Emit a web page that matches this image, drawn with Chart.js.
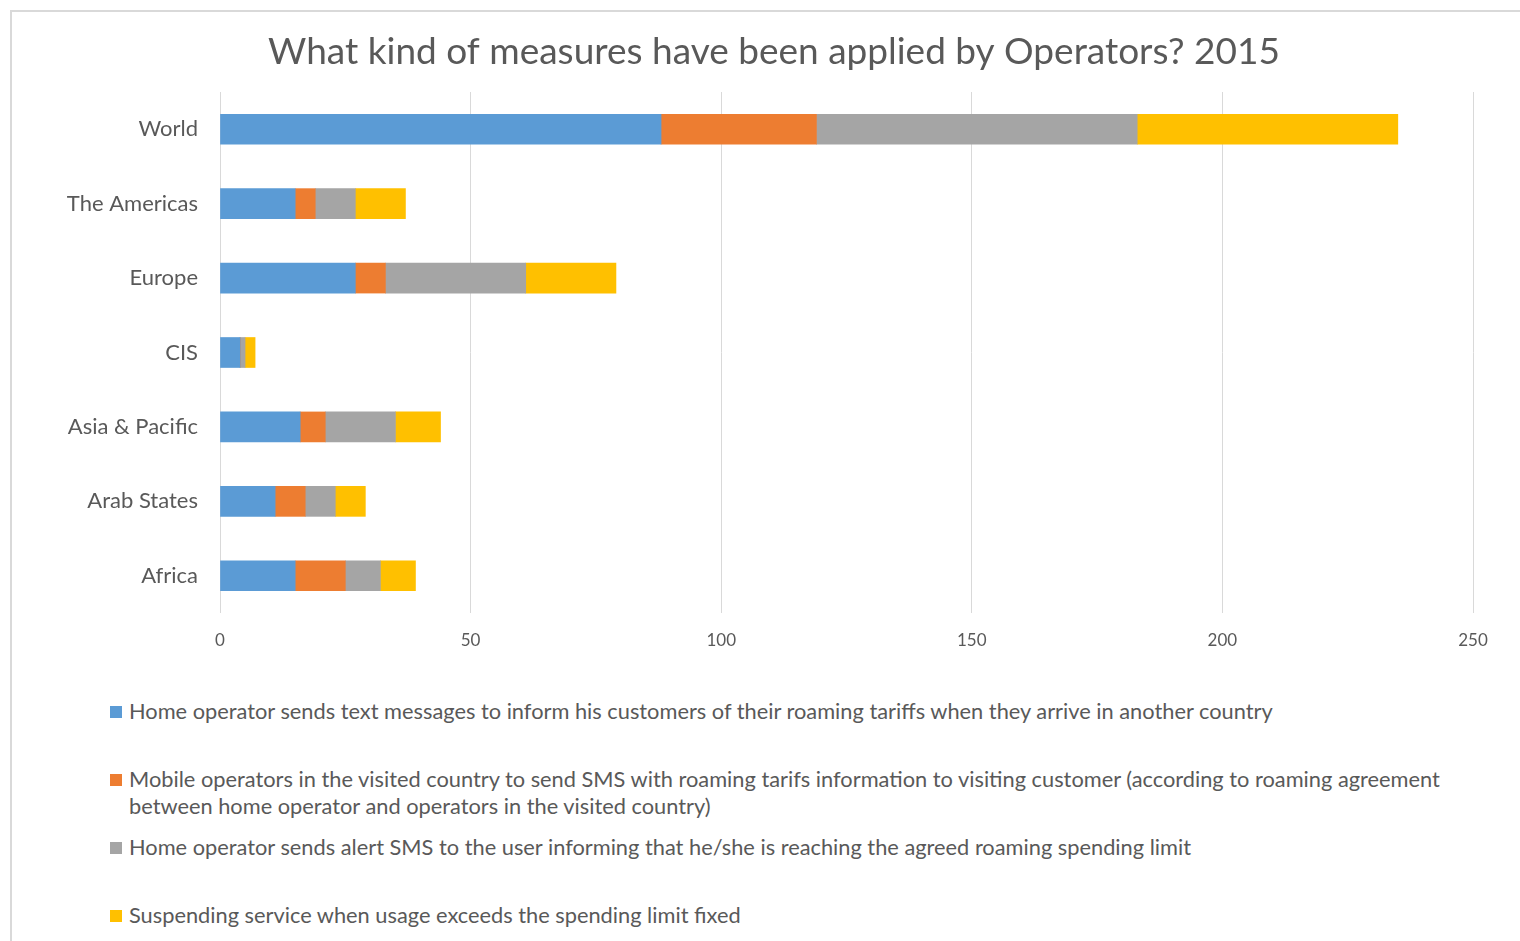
<!DOCTYPE html>
<html><head><meta charset="utf-8">
<script src="https://cdn.jsdelivr.net/npm/chart.js@4/dist/chart.umd.min.js"></script>
<style>
html,body{margin:0;padding:0;background:#fff;width:1520px;height:941px;overflow:hidden;font-family:Lato,"Open Sans",sans-serif;position:relative;}
#frame{position:absolute;left:10px;top:10px;width:1520px;height:940px;border-top:2px solid #d9d9d9;border-left:2px solid #d9d9d9;}
#wrap{position:absolute;left:0;top:0;width:1548px;height:670px;}
#legend{position:absolute;left:110px;top:697px;width:1345px;color:#595959;font-size:21.8px;line-height:27px;}
.li{position:absolute;left:0;width:1345px;}
.sw{position:absolute;left:0;top:9px;width:12px;height:12px;}
.tx{margin-left:19px;}
</style></head><body>
<div id="frame"></div>
<div id="wrap"><canvas id="c"></canvas></div>
<div id="legend"></div>
<script>
const categories = ["World","The Americas","Europe","CIS","Asia & Pacific","Arab States","Africa"];
const seriesNames = [
 "Home operator sends text messages to inform his customers of their roaming tariffs when they arrive in another country",
 "Mobile operators in the visited country to send SMS with roaming tarifs  information to visiting customer (according to roaming agreement between home operator and operators in the visited country)",
 "Home operator sends alert SMS to the user informing that he/she is reaching the agreed roaming spending limit",
 "Suspending service when usage exceeds the spending limit fixed"
];
const homeTextMessages = [88,15,27,4,16,11,15];
const visitedCountrySMS = [31,4,6,0,5,6,10];
const alertSMS = [64,8,28,1,14,6,7];
const suspendingService = [52,10,18,2,9,6,7];
const xTicks = [0,50,100,150,200,250];
const colors = ["#5B9BD5","#ED7D31","#A5A5A5","#FFC000"];
const seriesValues = [homeTextMessages, visitedCountrySMS, alertSMS, suspendingService];

const chart = new Chart(document.getElementById('c'), {
  type:'bar',
  data:{labels:categories, datasets: seriesNames.map((n,i)=>({label:n,data:seriesValues[i],backgroundColor:colors[i],barThickness:30,borderWidth:0}))},
  options:{
    indexAxis:'y', responsive:true, maintainAspectRatio:false, animation:false,
    layout:{padding:0},
    plugins:{
      legend:{display:false}, tooltip:{enabled:false},
      title:{display:true,text:"What kind of measures have been applied by Operators? 2015",color:"#595959",font:{family:"Lato",size:37,weight:'normal'},padding:{top:30,bottom:17.6}}
    },
    scales:{
      x:{stacked:true,min:0,max:250,afterBuildTicks:(s)=>{s.ticks=xTicks.map(v=>({value:v}));},
        grid:{color:"#d9d9d9",lineWidth:1,drawTicks:false},border:{display:false},
        ticks:{color:"#595959",font:{family:"Lato",size:17},padding:17},
        afterFit:(s)=>{s.height=57;}},
      y:{stacked:true,grid:{display:false},border:{display:false},
        ticks:{color:"#595959",font:{family:"Lato",size:22},padding:14},
        afterFit:(s)=>{s.width=220;}},
      yr:{type:'category',labels:categories,position:'right',display:true,grid:{display:false},border:{display:false},
        ticks:{display:false},afterFit:(s)=>{s.width=75;}}
    }
  }
});

const leg = document.getElementById('legend');
const tops=[0,68,136,204];
seriesNames.forEach((n,i)=>{
  const d=document.createElement('div');d.className='li';d.style.top=tops[i]+'px';
  d.innerHTML='<span class="sw" style="background:'+colors[i]+'"></span><div class="tx"></div>';
  d.querySelector('.tx').textContent=n;
  leg.appendChild(d);
});
</script>
</body></html>
